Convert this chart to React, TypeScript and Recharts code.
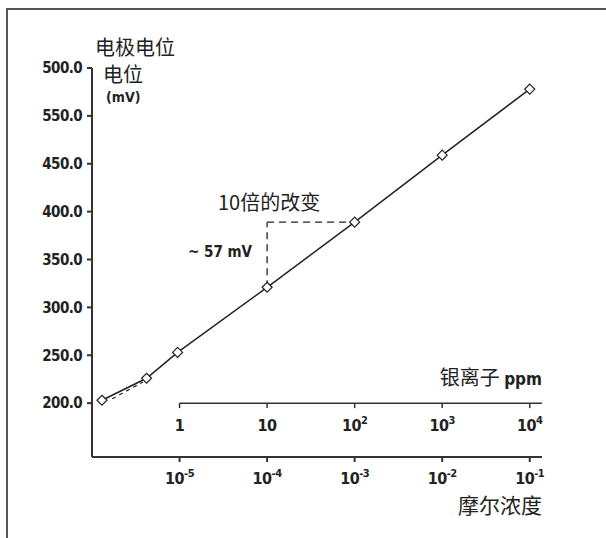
import { LineChart, Line, XAxis, YAxis, ReferenceLine } from 'recharts';

// silver ion concentration (ppm) and measured electrode potential (mV)
const PPM = [0.13, 0.42, 0.95, 10, 100, 1000, 10000];
const POTENTIAL = [203, 226, 253, 321, 389, 459, 528];

// dashed ideal-response segment at the low end
const DASH_PPM = [0.17, 0.38];
const DASH_POTENTIAL = [204.5, 222];

const Y_TICKS = [200, 250, 300, 350, 400, 450, 500, 550];
const Y_TICK_LABELS = ['200.0', '250.0', '300.0', '350.0', '400.0', '450.0', '550.0', '500.0'];

const X_TICKS = [0, 1, 2, 3, 4];
const PPM_TICK_BASE = ['1', '10', '10', '10', '10'];
const PPM_TICK_EXP = ['', '', '2', '3', '4'];
const MOLAR_TICK_EXP = ['-5', '-4', '-3', '-2', '-1'];

const X_MIN = -1.0;
const X_MAX = 4.14;
const Y_MIN = 143.75;
const Y_MAX = 550;
const PPM_AXIS_MV = 200;
const TICK_MV = 5.2;

const NARROW = "'Liberation Sans Narrow', 'DejaVu Sans Condensed', Arial, sans-serif";
const CJK = "'Noto Sans CJK SC', 'Noto Sans', sans-serif";
const INK = '#222';

const mainData = PPM.map((p, i) => ({ x: Math.log10(p), mv: POTENTIAL[i] }));
const dashData = DASH_PPM.map((p, i) => ({ x: Math.log10(p), mv: DASH_POTENTIAL[i] }));

const Diamond = (props: any) => {
  const { cx, cy } = props;
  if (cx == null || cy == null) return null;
  const r = 5;
  return (
    <polygon
      points={`${cx},${cy - r} ${cx + r},${cy} ${cx},${cy + r} ${cx - r},${cy}`}
      fill="#fff"
      stroke={INK}
      strokeWidth={1.2}
    />
  );
};

const MolarTick = (props: any) => {
  const { x, y, payload } = props;
  const i = X_TICKS.indexOf(payload.value);
  return (
    <text x={x} y={y + 22} textAnchor="middle" fontFamily={NARROW} fontWeight="bold" fontSize={16} letterSpacing={-0.5} fill={INK}>
      10
      <tspan dy={-7} fontSize={11}>{MOLAR_TICK_EXP[i]}</tspan>
    </text>
  );
};

const ppmLabel = (i: number) => (props: any) => {
  const vb = props.viewBox || {};
  return (
    <text x={vb.x} y={vb.y + 28} textAnchor="middle" fontFamily={NARROW} fontWeight="bold" fontSize={16} letterSpacing={-0.5} fill={INK}>
      {PPM_TICK_BASE[i]}
      {PPM_TICK_EXP[i] && <tspan dy={-7} fontSize={11}>{PPM_TICK_EXP[i]}</tspan>}
    </text>
  );
};

const Txt = ({ style, children }: any) => (
  <div style={{ position: 'absolute', lineHeight: 1, whiteSpace: 'nowrap', color: INK, ...style }}>{children}</div>
);

export default function App() {
  return (
    <div style={{ position: 'absolute', left: 0, top: 0, width: 606, height: 538, overflow: 'hidden', background: '#fff' }}>
      <div
        style={{
          position: 'absolute',
          left: 6,
          top: 8,
          width: 640,
          height: 600,
          borderLeft: '2px solid #555',
          borderTop: '2px solid #555',
        }}
      />
      <LineChart width={606} height={538} margin={{ top: 68, right: 64, bottom: 0, left: 0 }}>
        <XAxis
          dataKey="x"
          type="number"
          domain={[X_MIN, X_MAX]}
          allowDataOverflow
          ticks={X_TICKS}
          height={81}
          tickSize={5}
          tickMargin={0}
          tick={<MolarTick />}
          stroke="#333"
          strokeWidth={2}
        />
        <YAxis
          type="number"
          domain={[Y_MIN, Y_MAX]}
          allowDataOverflow
          ticks={Y_TICKS}
          width={92}
          tickSize={5}
          tickMargin={5}
          tickFormatter={(v: number) => Y_TICK_LABELS[Y_TICKS.indexOf(v)]}
          tick={{ fontFamily: NARROW, fontWeight: 'bold', fontSize: 15, letterSpacing: -0.6, fill: INK }}
          stroke="#333"
          strokeWidth={2}
        />
        <ReferenceLine
          segment={[{ x: 0, y: PPM_AXIS_MV }, { x: X_MAX, y: PPM_AXIS_MV }]}
          stroke="#333"
          strokeWidth={1.5}
        />
        {X_TICKS.map((t, i) => (
          <ReferenceLine
            key={t}
            segment={[{ x: t, y: PPM_AXIS_MV }, { x: t, y: PPM_AXIS_MV - TICK_MV }]}
            stroke="#333"
            strokeWidth={1.5}
            label={ppmLabel(i)}
          />
        ))}
        <ReferenceLine
          segment={[{ x: mainData[3].x, y: POTENTIAL[3] }, { x: mainData[3].x, y: POTENTIAL[4] }]}
          stroke={INK}
          strokeWidth={1.3}
          strokeDasharray="7 5"
        />
        <ReferenceLine
          segment={[{ x: mainData[3].x, y: POTENTIAL[4] }, { x: mainData[4].x, y: POTENTIAL[4] }]}
          stroke={INK}
          strokeWidth={1.3}
          strokeDasharray="7 5"
        />
        <Line
          data={dashData}
          dataKey="mv"
          stroke={INK}
          strokeWidth={1.2}
          strokeDasharray="4 4"
          dot={false}
          isAnimationActive={false}
        />
        <Line
          data={mainData}
          dataKey="mv"
          stroke={INK}
          strokeWidth={1.5}
          dot={<Diamond />}
          isAnimationActive={false}
        />
      </LineChart>

      <Txt style={{ left: 95, top: 37, fontFamily: CJK, fontSize: 20 }}>电极电位</Txt>
      <Txt style={{ left: 103, top: 64, fontFamily: CJK, fontSize: 20 }}>电位</Txt>
      <Txt style={{ left: 106, top: 90, fontFamily: NARROW, fontWeight: 'bold', fontSize: 14 }}>(mV)</Txt>
      <Txt style={{ left: 218, top: 192, fontFamily: CJK, fontSize: 20 }}>10倍的改变</Txt>
      <Txt style={{ left: 188, top: 245, fontFamily: NARROW, fontWeight: 'bold', fontSize: 15 }}>~ 57 mV</Txt>
      <Txt style={{ right: 64, top: 367, fontFamily: CJK, fontSize: 20 }}>
        银离子 <span style={{ fontFamily: NARROW, fontWeight: 'bold', fontSize: 17 }}>ppm</span>
      </Txt>
      <Txt style={{ right: 64, top: 494, fontFamily: CJK, fontSize: 21 }}>摩尔浓度</Txt>
    </div>
  );
}
